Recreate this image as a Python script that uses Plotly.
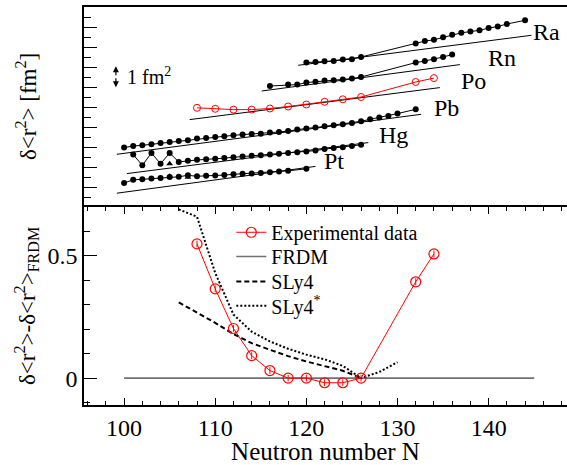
import plotly.graph_objects as go

FONT = "Liberation Serif"

# ---------------- top panel: isotope chains (delta<r^2>, fm^2, offset chains) ----------------
pt_n = list(range(100, 119)) + [120]
pt_r2 = [1.20, 1.36, 1.385, 1.42, 1.45, 1.495, 1.51, 1.585, 1.535, 1.56, 1.57, 1.595,
         1.635, 1.66, 1.675, 1.70, 1.735, 1.77, 1.81, 1.91]
pt_iso_n = [105, 107]
pt_iso_r2 = [1.54, 1.49]
pt_frdm_n = [99.2, 121.0]
pt_frdm_r2 = [0.69, 2.03]

hg_n = list(range(101, 127))
hg_r2 = [2.62, 2.085, 2.70, 2.16, 2.70, 2.25, 2.31, 2.36, 2.385, 2.41, 2.445, 2.485, 2.525,
         2.56, 2.585, 2.625, 2.66, 2.705, 2.735, 2.78, 2.82, 2.895, 2.945, 2.99, 3.045, 3.11]
hg_iso_n = [105]
hg_iso_r2 = [2.16]
hg_frdm_n = [100.3, 126.8]
hg_frdm_r2 = [1.67, 3.22]

pb_n = list(range(100, 131)) + [132]
pb_r2 = [2.97, 3.05, 3.085, 3.135, 3.20, 3.25, 3.30, 3.335, 3.42, 3.45, 3.50, 3.535, 3.585,
         3.62, 3.65, 3.66, 3.72, 3.75, 3.80, 3.87, 3.93, 3.97, 4.035, 4.085, 4.135, 4.20,
         4.285, 4.385, 4.47, 4.55, 4.67, 4.885]
pb_frdm_n = [99.2, 132.6]
pb_frdm_r2 = [2.635, 4.635]

po_n = [108, 110, 112, 114, 116, 118, 120, 122, 124, 126, 132, 134]
po_r2 = [4.96, 4.91, 4.87, 4.87, 4.925, 5.025, 5.125, 5.26, 5.385, 5.50, 6.25, 6.445]
po_frdm_n = [107.2, 134.65]
po_frdm_r2 = [4.37, 5.97]

rn_n = [116, 118, 119, 120, 121, 122, 123, 124, 125, 126, 132, 133, 134, 135, 136]
rn_r2 = [6.05, 6.12, 6.12, 6.22, 6.26, 6.32, 6.335, 6.37, 6.42, 6.50, 7.22, 7.30, 7.385,
         7.50, 7.62]
rn_frdm_n = [115.1, 136.85]
rn_frdm_r2 = [5.80, 7.12]

ra_n = [120, 121, 122, 123, 124, 125, 126, 132, 133, 134, 135, 136, 137, 138, 139, 140,
        141, 142, 144]
ra_r2 = [7.22, 7.245, 7.285, 7.30, 7.37, 7.385, 7.50, 8.17, 8.295, 8.36, 8.485, 8.61, 8.71,
         8.77, 8.835, 8.945, 9.025, 9.15, 9.335]
ra_frdm_n = [119.1, 144.7]
ra_frdm_r2 = [7.085, 8.585]

chain_labels = ["Ra", "Rn", "Po", "Pb", "Hg", "Pt"]
chain_label_n = [146.4, 141.5, 138.3, 135.4, 129.6, 123.0]
chain_label_r2 = [8.775, 7.46, 6.31, 4.945, 3.585, 2.285]

# ---------------- bottom panel: difference to FRDM ----------------
exp_n = [108, 110, 112, 114, 116, 118, 120, 122, 124, 126, 132, 134]
exp_d = [0.549, 0.365, 0.203, 0.092, 0.031, 0.0, 0.0, -0.019, -0.019, 0.0, 0.394, 0.508]
exp_err = [0.014, 0.014, 0.014, 0.014, 0.014, 0.014, 0.014, 0.014, 0.014, 0.014, 0.014, 0.014]

frdm_n = [100, 145]
frdm_d = [0.0, 0.0]

sly4_n = [106, 108, 110, 112, 114, 116, 118, 120, 122, 124, 126]
sly4_d = [0.31, 0.268, 0.226, 0.18, 0.143, 0.116, 0.09, 0.068, 0.048, 0.03, 0.0]

sly4s_n = [106, 108, 110, 112, 114, 116, 118, 120, 122, 124, 126, 128, 130]
sly4s_d = [0.69, 0.66, 0.43, 0.26, 0.19, 0.15, 0.12, 0.096, 0.077, 0.05, 0.0, 0.025, 0.065]

XRANGE = [95.6, 148.6]
SPLIT = 0.4975

fig = go.Figure()

black_chains = [(pt_n, pt_r2), (hg_n, hg_r2), (pb_n, pb_r2), (rn_n, rn_r2), (ra_n, ra_r2)]
frdm_lines = [(pt_frdm_n, pt_frdm_r2), (hg_frdm_n, hg_frdm_r2), (pb_frdm_n, pb_frdm_r2),
              (po_frdm_n, po_frdm_r2), (rn_frdm_n, rn_frdm_r2), (ra_frdm_n, ra_frdm_r2)]

for xs, ys in frdm_lines:
    fig.add_trace(go.Scatter(x=xs, y=ys, mode="lines", xaxis="x2", yaxis="y2",
                             line=dict(color="black", width=1), showlegend=False,
                             hoverinfo="skip"))
for xs, ys in black_chains:
    fig.add_trace(go.Scatter(x=xs, y=ys, mode="lines+markers", xaxis="x2", yaxis="y2",
                             line=dict(color="black", width=1),
                             marker=dict(symbol="circle", size=6, color="black"),
                             showlegend=False))
for xs, ys in [(pt_iso_n, pt_iso_r2), (hg_iso_n, hg_iso_r2)]:
    fig.add_trace(go.Scatter(x=xs, y=ys, mode="markers", xaxis="x2", yaxis="y2",
                             marker=dict(symbol="triangle-up", size=6, color="black"),
                             showlegend=False))
fig.add_trace(go.Scatter(x=po_n, y=po_r2, mode="lines+markers", xaxis="x2", yaxis="y2",
                         line=dict(color="red", width=1),
                         marker=dict(symbol="circle-open", size=7, color="red",
                                     line=dict(width=1)),
                         showlegend=False))

# bottom panel (one legend per entry so that row spacing matches)
fig.add_trace(go.Scatter(x=frdm_n, y=frdm_d, mode="lines", name="FRDM",
                         line=dict(color="#707070", width=1.6), legend="legend2"))
fig.add_trace(go.Scatter(x=sly4_n, y=sly4_d, mode="lines", name="SLy4",
                         line=dict(color="black", width=2, dash="5px,3px"),
                         legend="legend3"))
fig.add_trace(go.Scatter(x=sly4s_n, y=sly4s_d, mode="lines", name="SLy4<sup>*</sup>",
                         line=dict(color="black", width=2, dash="2px,2px"),
                         legend="legend4"))
fig.add_trace(go.Scatter(x=exp_n, y=exp_d, mode="lines+markers", name="Experimental data",
                         line=dict(color="red", width=1),
                         marker=dict(symbol="circle-open", size=10, color="red",
                                     line=dict(width=1.2)),
                         error_y=dict(type="data", array=exp_err, color="red",
                                      thickness=1, width=0),
                         legend="legend"))

annotations = []
for t, xv, yv in zip(chain_labels, chain_label_n, chain_label_r2):
    annotations.append(dict(text=t, x=xv, y=yv, xref="x2", yref="y2", showarrow=False,
                            xanchor="center", yanchor="middle",
                            font=dict(family=FONT, size=24, color="black")))

# 1 fm^2 scale bar
annotations.append(dict(text="", x=99.1, y=7.035, ax=99.1, ay=6.51, xref="x2", yref="y2",
                        axref="x2", ayref="y2", showarrow=True, arrowhead=2,
                        arrowsize=1, arrowwidth=1.2, arrowcolor="black"))
annotations.append(dict(text="", x=99.1, y=5.985, ax=99.1, ay=6.51, xref="x2", yref="y2",
                        axref="x2", ayref="y2", showarrow=True, arrowhead=2,
                        arrowsize=1, arrowwidth=1.2, arrowcolor="black"))
annotations.append(dict(text="1 fm<sup>2</sup>", x=100.1, y=6.56, xref="x2", yref="y2",
                        showarrow=False, xanchor="left", yanchor="middle",
                        font=dict(family=FONT, size=20, color="black")))

# y titles
annotations.append(dict(text="δ&lt;r<sup>2</sup>&gt; [fm<sup>2</sup>]", x=-0.118,
                        y=(SPLIT + 1) / 2, xref="paper", yref="paper", showarrow=False,
                        textangle=-90, xanchor="center", yanchor="middle",
                        font=dict(family=FONT, size=23, color="black")))
annotations.append(dict(text="δ&lt;r<sup>2</sup>&gt;-δ&lt;r<sup>2</sup>&gt;<sub>FRDM</sub>",
                        x=-0.118, y=SPLIT / 2, xref="paper", yref="paper",
                        showarrow=False, textangle=-90, xanchor="center",
                        yanchor="middle",
                        font=dict(family=FONT, size=23, color="black")))


def leg(yc):
    return dict(x=0.305, y=yc, xanchor="left", yanchor="middle",
                bgcolor="rgba(0,0,0,0)", borderwidth=0, itemwidth=30,
                font=dict(family=FONT, size=20, color="black"))


fig.update_layout(
    width=567, height=465,
    margin=dict(l=84, r=0, t=7, b=60),
    paper_bgcolor="white", plot_bgcolor="white",
    font=dict(family=FONT, size=24, color="black"),
    showlegend=True,
    legend=leg(0.434), legend2=leg(0.373), legend3=leg(0.310), legend4=leg(0.2495),
    annotations=annotations,
    xaxis=dict(domain=[0, 1], range=XRANGE, anchor="y", showline=True, linecolor="black",
               linewidth=1.5, mirror="ticks", ticks="inside", ticklen=7, tickwidth=1.2,
               tickcolor="black", tick0=100, dtick=10,
               minor=dict(dtick=2, tick0=100, ticklen=4, ticks="inside",
                          tickcolor="black", tickwidth=1),
               showgrid=False, zeroline=False,
               tickfont=dict(family=FONT, size=24),
               title=dict(text="Neutron number N", font=dict(family=FONT, size=25),
                          standoff=8)),
    yaxis=dict(domain=[0, SPLIT], range=[-0.11, 0.70], anchor="x", showline=True,
               linecolor="black", linewidth=1.5, ticks="inside", ticklen=13,
               tickwidth=1.2, tickcolor="black", tick0=0, dtick=0.5,
               minor=dict(dtick=0.1, tick0=0, ticklen=6, ticks="inside",
                          tickcolor="black", tickwidth=1),
               showgrid=False, zeroline=False, tickfont=dict(family=FONT, size=24)),
    xaxis2=dict(domain=[0, 1], range=XRANGE, anchor="y2", side="top", showline=True,
                linecolor="black", linewidth=1.5, ticks="", showticklabels=False,
                showgrid=False, zeroline=False),
    yaxis2=dict(domain=[SPLIT, 1], range=[0, 10], anchor="x2", showline=True,
                linecolor="black", linewidth=1.5, ticks="inside", ticklen=13,
                tickwidth=1.2, tickcolor="black", tick0=0, dtick=1,
                minor=dict(dtick=0.5, tick0=0, ticklen=7, ticks="inside",
                           tickcolor="black", tickwidth=1),
                showticklabels=False, showgrid=False, zeroline=False),
)

fig.write_html("out.html",
               config={"displayModeBar": False},
               post_script="document.body.style.margin='0';"
                           "document.body.style.padding='0';")
